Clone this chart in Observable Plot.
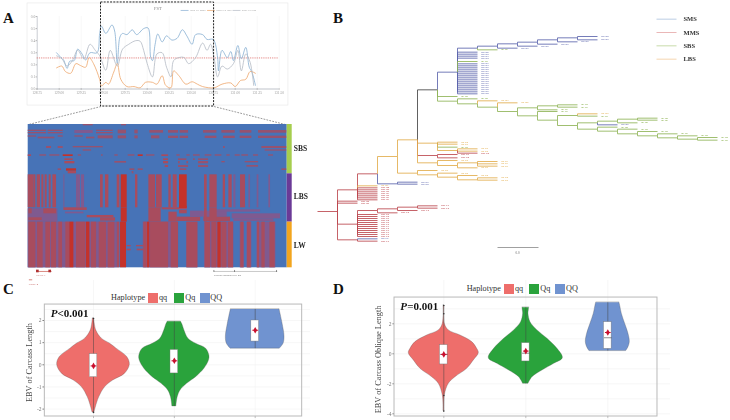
<!DOCTYPE html>
<html><head><meta charset="utf-8">
<script src="https://cdn.jsdelivr.net/npm/d3@7"></script>
<script src="https://cdn.jsdelivr.net/npm/@observablehq/plot@0.6"></script>
<style>
html,body{margin:0;padding:0;background:#fff}
#page{position:relative;width:730px;height:420px;overflow:hidden;font-family:"Liberation Serif",serif}
#page svg{position:absolute;background:transparent;overflow:visible;max-width:none;filter:blur(.3px)}
.t{position:absolute;white-space:nowrap;line-height:1}
.sw{position:absolute}
</style></head><body><div id="page"></div>
<script>
const SERIF="Liberation Serif";
// ---------- Panel A: FST ----------
const smsMmsX=[128.97,129.02,129.05,129.09,129.12,129.17,129.21,129.26,129.30,129.35,129.43,129.46,129.48,129.53,129.60,129.63,129.66,129.69,129.72,129.77,129.83,129.88,129.96,130.01,130.04,130.06,130.09,130.12,130.17,130.22,130.28,130.34,130.40,130.45,130.51,130.55,130.63,130.68,130.75,130.80,130.81,130.85,130.91,130.95,130.98,131.03,131.07,131.12,131.16,131.19,131.23];
const smsMmsY=[.30,.26,.24,.17,.23,.235,.33,.29,.24,.30,.30,.46,.52,.46,.53,.48,.21,.43,.46,.45,.49,.45,.50,.505,.26,.235,.37,.455,.39,.44,.405,.42,.49,.44,.37,.45,.45,.41,.41,.26,.15,.32,.26,.31,.235,.36,.25,.345,.18,.14,.03];
const mmsSbsX=[128.97,129.03,129.07,129.13,129.19,129.24,129.30,129.34,129.39,129.46,129.48,129.53,129.56,129.62,129.66,129.70,129.77,129.85,129.92,129.98,130.06,130.11,130.17,130.21,130.27,130.30,130.36,130.44,130.51,130.57,130.63,130.76,130.85,130.95,131.00,131.06,131.12,131.17,131.23];
const mmsSbsY=[.175,.19,.145,.13,.21,.195,.18,.26,.21,.08,.025,.055,.04,.14,.21,.08,.02,.02,.01,.055,.055,.04,.11,.03,.01,.15,.11,.04,.06,.04,.02,.01,.04,.05,.02,.07,.08,.145,.13];
const smsSbsX=[128.97,129.03,129.09,129.15,129.21,129.28,129.35,129.41,129.46,129.53,129.58,129.66,129.72,129.79,129.87,129.92,129.96,130.00,130.06,130.11,130.17,130.22,130.27,130.30,130.36,130.42,130.47,130.55,130.63,130.68,130.72,130.76,130.80,130.85,130.91,130.98,131.03,131.07,131.12,131.17,131.21];
const smsSbsY=[.275,.25,.19,.235,.32,.25,.37,.32,.275,.155,.32,.19,.33,.37,.40,.395,.32,.21,.10,.29,.30,.18,.10,.235,.26,.26,.21,.26,.38,.32,.37,.26,.10,.19,.165,.21,.32,.15,.29,.22,.03];
const fstTicksX=[128.75,129,129.25,129.5,129.75,130,130.25,130.5,130.75,131,131.25,131.5];
const fstTicksY=[0,.1,.2,.3,.4,.5,.6];
const fstThreshold=.257;
const zoomWindow=[129.475,130.76];
const fstSeries=[["SMS VS MMS",smsMmsX,smsMmsY,"#86AED2"],["MMS VS SBS",mmsSbsX,mmsSbsY,"#EDA66B"],["SMS VS SBS",smsSbsX,smsSbsY,"#B4BAC4"]];
const fstLegendX=[130.38,130.68,130.97];
// ---------- Panel A: haplotype matrix (column, row positions) ----------
const tone={m:"#A84C5E",b:"#C4322A",p:"#7F5A90",s:"#96526F"};
const sbsDashes=[[12,16,248,278,"s"],[12,16,363,378,"s"],
[29,33,83,138,"s"],[36,40,83,138,"s"],[29,33,143,188,"s"],[36,40,143,188,"s"],[30,39,223,278,"p"],[29,33,288,338,"s"],[36,40,288,338,"s"],[29,40,353,378,"s"],[29,40,403,413,"s"],[30,38,448,489,"s"],[30,38,504,534,"s"],[30,38,539,564,"s"],[30,38,609,649,"s"],[30,38,664,704,"s"],[30,38,719,754,"s"],[30,38,774,859,"s"],
[46,50,83,108,"s"],[50,55,113,163,"s"],[46,50,173,188,"s"],[46,50,223,248,"s"],[50,55,258,283,"s"],[46,55,293,338,"s"],[46,55,353,378,"s"],[46,55,403,413,"s"],[46,55,453,478,"s"],[47,54,504,534,"s"],[47,54,539,564,"s"],[47,54,614,649,"s"],[47,54,669,704,"s"],[47,54,719,754,"s"],[47,54,774,859,"s"],
[78,84,138,153,"s"],[78,84,173,188,"s"],[78,82,218,308,"s"],[78,84,669,674,"s"],[78,84,784,859,"s"],
[88,92,248,273,"s"],[88,92,794,859,"s"],
[103,108,83,93,"m"],[103,107,118,138,"s"],[103,107,148,178,"s"],[103,108,188,218,"b"],[103,107,233,243,"s"],[103,107,303,308,"s"],[103,107,343,353,"s"],[103,107,383,403,"s"],[103,108,413,428,"b"],[103,107,438,463,"s"],[103,108,484,504,"m"],[103,107,529,539,"s"],[103,107,559,569,"s"],[103,107,579,599,"s"],[103,107,614,634,"s"],[103,107,644,664,"s"],[103,107,679,689,"s"],[103,107,704,719,"s"],[103,107,724,744,"s"],[103,107,759,774,"s"],[103,107,804,819,"s"],
[115,120,193,218,"m"],[115,120,489,504,"m"],[115,120,534,559,"s"],[115,120,579,584,"s"],[115,120,594,624,"s"],
[123,130,193,223,"m"],[123,128,343,378,"s"],[123,130,489,504,"m"],[123,130,534,539,"s"],[123,130,559,564,"s"],[123,130,594,624,"s"],[123,127,664,674,"s"],[123,127,734,774,"s"],
[135,141,494,504,"m"],[135,141,534,564,"s"],[135,141,594,624,"s"],[135,140,739,774,"s"],
[145,150,173,183,"s"],[145,152,198,228,"b"],[145,150,388,403,"s"],[145,150,413,428,"s"],[145,150,539,559,"s"],[145,150,844,859,"s"],
[153,160,203,228,"m"],[153,160,395,400,"s"]];
const lbsBands=[[83,100,"m"],[100,106,"m"],[110,120,"m"],[124,130,"m"],[134,140,"m"],[146,152,"m"],[157,168,"m"],[190,193,"p"],[228,240,"p"],[243,252,"p"],[300,308,"m"],[315,325,"m"],[350,358,"m"],[362,380,"b"],[405,412,"m"],[445,465,"m"],[468,485,"m"],[505,512,"m"],[518,530,"m"],[537,560,"b"],[612,620,"m"],[628,650,"m"],[668,675,"m"],[685,695,"m"],[700,706,"p"],[720,735,"m"],[745,750,"p"],[770,775,"p"],[805,810,"p"]];
const lbsPatches=[[265,305,83,172,"p"],[265,280,85,95,"m"],[265,280,130,168,"m"],[292,300,85,125,"m"],[262,270,190,260,"m"],[275,280,195,250,"p"],[262,305,362,380,"b"],[262,305,445,482,"m"],[285,292,260,340,"m"],[292,302,300,345,"m"],[262,268,485,560,"m"],[258,264,537,560,"b"],[275,305,505,530,"m"],[270,280,537,560,"m"],[290,303,530,600,"m"],[272,290,570,680,"p"],[290,303,610,690,"m"],[280,295,695,840,"p"],[268,275,640,780,"p"],[295,303,700,820,"p"],[262,305,612,620,"m"],[262,305,628,650,"m"]];
const lwUnder=[[83,350,"p"],[428,534,"p"],[559,592,"p"],[612,700,"p"],[719,732,"p"],[739,754,"p"],[769,826,"p"]];
const lwBands=[[85,106,"m"],[111,128,"m"],[136,150,"m"],[153,168,"m"],[175,186,"m"],[196,208,"m"],[208,220,"b"],[228,256,"m"],[258,268,"b"],[273,288,"m"],[296,318,"m"],[323,343,"m"],[350,358,"m"],[360,378,"b"],[430,440,"m"],[441,448,"b"],[450,504,"m"],[512,534,"m"],[559,592,"m"],[614,630,"m"],[634,649,"m"],[652,662,"b"],[664,679,"m"],[684,699,"m"],[721,730,"m"],[741,752,"m"],[771,777,"m"],[784,794,"m"],[808,824,"m"]];
const lwPatches=[[375,379,380,392,"m"],[375,379,408,430,"m"],[386,391,380,392,"m"],[386,391,410,430,"m"]];
const groupNames=["SBS","LBS","LW"],groupRows=[[12,160],[160,305],[305,442]],groupColors=["#A6CE4E","#6B3A97","#F2A51F"];
// ---------- Panel B: tree, edges = [parent depth, parent row, child row, clade, isLeaf] ----------
const stackS=[155,161,167,173,190,196,202,208,214,220,226,232,238,244,250,256,262,268,274,280];
const stackM1=[562,568,574,580,586,592,598];
const stackM2=[642,648,654,660,666,672,678,684,690,696,702,708];
const treeEdges=[
[-1,633,633,"M",0],[0,633,568,"M",0],[0,633,602,"M",1],[0,633,608,"M",1],[0,633,671,"M",0],[0,633,718,"M",0],
[1,568,520,"M",0],[1,568,556,"L",1],...stackM1.map(y=>[1,568,y,"M",1]),
[2,520,468,"L",0],[2,520,550,"S",0],[3,550,545,"S",1],[3,550,551,"S",1],
[3,468,418,"L",0],[3,468,518,"L",0],
[4,418,268,"K",0],[4,418,428,"L",0],[4,418,465,"M",0],[4,418,487,"L",0],
[5,268,215,"S",0],[5,268,288,"G",1],[5,268,302,"G",0],
[6,215,143,"S",0],...stackS.map(y=>[6,215,y,"S",1]),[6,215,183,"G",1],
[7,143,137,"S",0],[7,143,148,"G",1],[8,137,130,"S",0],[8,137,143,"S",1],[9,130,125,"S",0],[9,130,137,"S",1],[10,125,118,"S",0],[10,125,131,"S",1],[11,118,112,"S",0],[11,118,124,"S",1],[12,112,108,"S",1],[12,112,118,"S",1],
[6,302,295,"G",1],[6,302,310,"G",0],[7,310,301,"L",1],[7,310,320,"G",0],[8,320,307,"L",1],[8,320,333,"G",0],
[9,333,322,"G",0],[9,333,346,"G",0],[10,322,316,"G",0],[10,322,328,"G",1],[11,316,313,"G",1],[11,316,320,"G",1],
[10,346,333,"G",1],[10,346,359,"G",0],[11,359,345,"G",0],[11,359,375,"G",0],[12,345,340,"L",1],[12,345,347,"G",1],
[12,375,367,"G",0],[12,375,386,"G",0],[13,367,362,"G",0],[13,367,373,"S",1],[14,362,356,"G",0],[14,362,367,"G",1],[15,356,353,"G",1],[15,356,359,"G",1],
[13,386,380,"G",1],[13,386,392,"G",0],[14,392,386,"G",1],[14,392,400,"G",0],[15,400,393,"G",1],[15,400,406,"G",0],[16,406,400,"G",1],[16,406,412,"G",0],[17,412,406,"G",1],[17,412,416,"G",0],[18,416,411,"G",1],[18,416,419,"G",1],
[5,428,425,"L",1],[5,428,431,"L",1],[5,428,440,"G",1],[5,428,450,"L",0],[6,450,445,"L",1],[6,450,452,"L",1],[6,450,458,"M",1],
[5,465,462,"M",1],[5,465,472,"M",1],
[5,487,480,"L",1],[5,487,495,"L",0],[6,495,487,"L",0],[6,495,502,"L",1],[7,487,483,"L",1],[7,487,490,"L",1],[7,487,497,"L",1],
[4,518,510,"L",1],[4,518,523,"L",0],[5,523,518,"L",1],[5,523,530,"L",0],[6,530,525,"L",1],[6,530,538,"L",0],[7,538,532,"L",1],[7,538,539,"L",1],
[1,671,630,"M",0],...stackM2.map(y=>[1,671,y,"M",1]),[2,630,625,"M",0],[2,630,637,"M",1],[3,625,620,"M",0],[3,625,630,"M",1],[4,620,616,"M",1],[4,620,623,"M",1],
[1,718,715,"S",1],[1,718,722,"M",1]];
const cladeColors={S:"#5C64AC",M:"#BC474E",G:"#8FB456",L:"#E2AC4C",K:"#444444"};
const cladeNames={S:"SMS",M:"MMS",G:"SBS",L:"LBS"};
const treeLegendNames=["SMS","MMS","SBS","LBS"],treeLegendRows=[56,96,136,176],treeLegendColors=["#A9C2DE","#E4A4A4","#BAD294","#F3CB9C"];
// ---------- Panels C, D ----------
const hapNames=["qq","Qq","QQ"],hapColors=["#EE6E6B","#2AA33C","#7093D0"];
const cGrid={qq:[2.09,1.56,1.18,.95,.73,.35,0,-.41,-.71,-1.02,-1.47,-1.92,-2.15],
Qq:[1.94,1.79,1.56,1.18,.95,.73,.42,.2,-.18,-.56,-.86,-1.17,-1.47,-1.88],QQ:[2.5,1.86,1.26,.95,.73]};
const cDens={qq:[2,8,25,50,69,101,109,94,59,34,17,7,3],Qq:[20,25,30,42,65,95,105,104,90,65,38,18,10,6],QQ:[73,82,88,85,74]};
const cBox={qq:[-.56,.48,null,-.05,-2.15,2.09],Qq:[-.39,.67,null,.18,-1.88,1.94],QQ:[1.05,2,null,1.56,.73,2.5]};
const cOut=[[1,2.09],[1,-2.15]];
const dGrid={qq:[3.22,2,1.56,1.22,.78,.33,.04,-.44,-1,-1.56,-2,-2.78,-3.82],
Qq:[3.07,2.89,2.67,2.11,1.56,1,.33,-.29,-.67,-1.11,-1.56,-2],QQ:[3.4,3.11,2.67,2,1.33,.78,.44,.18]};
const dDens={qq:[1,3,15,50,85,100,105,90,70,35,15,3,1],Qq:[10,9,8,14,35,65,95,111,85,50,20,8],QQ:[35,38,42,52,62,66,62,55]};
const dBox={qq:[-.71,.58,-.04,-.04,-3.82,3.22],Qq:[-.51,.71,.04,.18,-2,3.07],QQ:[.33,2.11,1.07,1.42,.18,3.4]};
const dOut=[[1,3.22],[1,2.67],[1,-2.78],[1,-3.82]];

const page=document.getElementById("page");
function place(svg,left,top){svg.style.left=left+"px";svg.style.top=top+"px";page.appendChild(svg);}
function text(s,left,top,size,extra=""){const e=document.createElement("div");e.className="t";e.textContent=s;e.style.cssText=`left:${left}px;top:${top}px;font-size:${size}px;${extra}`;page.appendChild(e);}

// Panel A line chart
{
 const series=fstSeries.flatMap(([name,xs,ys,color])=>xs.map((x,i)=>({name,x,y:ys[i],color})));
 place(Plot.plot({width:300,height:125,marginLeft:36.7,marginBottom:36.5,marginTop:16,marginRight:21.3,
  style:{fontFamily:SERIF,background:"transparent"},color:{type:"identity"},
  x:{domain:[128.75,131.5],range:[36.7,278.7]},y:{domain:[0,.6],range:[88.5,16]},
  marks:[
   Plot.rect([0],{x1:128.64,x2:131.605,y1:-.137,y2:.708,fill:"none",stroke:"#e6e6e6",strokeWidth:.6}),
   Plot.ruleX(fstTicksX,{y1:0,y2:.6,stroke:"#efefef",strokeWidth:.5}),
   Plot.ruleY([0],{stroke:"#aeb4bc",strokeWidth:.8}),
   Plot.ruleX([128.75],{y1:0,y2:.6,stroke:"#aeb4bc",strokeWidth:.6}),
   Plot.axisX({ticks:fstTicksX,tickSize:1,tickPadding:1.5,fontSize:3.6,tickFormat:d=>d3.format(".2f")(d),color:"#999",label:null}),
   Plot.axisY({ticks:fstTicksY,tickSize:1,tickPadding:1,fontSize:3.6,tickFormat:d3.format(".1f"),color:"#999",label:null}),
   Plot.ruleY([fstThreshold],{stroke:"#D9534F",strokeWidth:.7,strokeDasharray:"1.2,1"}),
   Plot.line(series,{x:"x",y:"y",z:"name",stroke:"color",strokeWidth:.8,curve:"catmull-rom"}),
   Plot.text(["FST"],{x:130.12,y:.664,fontSize:4.5,fill:"#888"}),
   Plot.link(fstSeries,{x1:(d,i)=>fstLegendX[i],x2:(d,i)=>fstLegendX[i]+.09,y1:.65,y2:.65,stroke:d=>d[3],strokeWidth:.7}),
   Plot.text(fstSeries,{x:(d,i)=>fstLegendX[i]+.105,y:.65,text:d=>d[0],fontSize:2.6,fill:"#999",textAnchor:"start"}),
   Plot.rect([0],{x1:zoomWindow[0],x2:zoomWindow[1],y1:-.145,y2:.716,fill:"none",stroke:"#222",strokeWidth:1,strokeDasharray:"2,1.2"}),
   Plot.link([[zoomWindow[0],128.65],[zoomWindow[1],131.57]],{x1:d=>d[0],x2:d=>d[1],y1:-.145,y2:-.294,stroke:"#555",strokeWidth:.6,strokeDasharray:"1.8,1.2"})
  ]}),0,0);
}
// Panel A matrix
{
 const r=(r1,r2,c1,c2,t)=>({r1,r2,c1,c2,fill:tone[t]});
 const cells=[
  ...sbsDashes.map(d=>r(...d)),
  ...lbsBands.map(d=>r(163,262,d[0],d[1],d[2])),...lbsPatches.map(d=>r(...d)),
  ...lwUnder.map(d=>r(305,442,d[0],d[1],d[2])),
  ...lwBands.map(d=>r(305,442,d[0],d[1],d[2])),...lwPatches.map(d=>r(...d))];
 place(Plot.plot({width:310,height:175,margin:0,style:{fontFamily:SERIF,background:"transparent"},color:{type:"identity"},
  x:{axis:null,domain:[83,860],range:[27.7,286.7]},y:{axis:null,domain:[12,442],range:[4,147.3]},
  marks:[
   Plot.rect([0],{x1:83,x2:860,y1:12,y2:442,fill:"#4773B7"}),
   Plot.rect(cells,{x1:"c1",x2:"c2",y1:"r1",y2:"r2",fill:"fill"}),
   Plot.rect(groupNames,{x1:860,x2:875,y1:(d,i)=>groupRows[i][0],y2:(d,i)=>groupRows[i][1],fill:(d,i)=>groupColors[i]}),
   Plot.text(groupNames,{x:880,y:(d,i)=>[85,228,374][i],text:d=>d,textAnchor:"start",fontSize:7.5,fontWeight:"bold",fill:"#222"}),
   Plot.link([0],{x1:108,x2:153,y1:453,y2:453,stroke:"#C0392B",strokeWidth:.6}),
   Plot.rect([[108,116],[145,153]],{x1:d=>d[0],x2:d=>d[1],y1:449,y2:457,fill:"#B03030"}),
   Plot.text(["GENE-1"],{x:108,y:465,fontSize:2.6,fill:"#B03030",textAnchor:"start"}),
   Plot.link([0],{x1:85,x2:95,y1:478,y2:478,stroke:"#C0392B",strokeWidth:.6}),
   Plot.text(["GENE-2"],{x:85,y:490,fontSize:2.6,fill:"#B03030",textAnchor:"start"}),
   Plot.link([0],{x1:640,x2:830,y1:453,y2:453,stroke:"#777",strokeWidth:.4}),
   Plot.ruleX([640,702,828],{y1:450,y2:456,stroke:"#444",strokeWidth:.6}),
   Plot.text(["ENSSSCG00000011111-201"],{x:640,y:465,fontSize:2.4,fill:"#555",textAnchor:"start"})
  ]}),0,120);
}
// Panel B tree
{
 const ed=treeEdges.map(([d,py,cy,c,leaf],i)=>({d,py,cy,c,leaf,i}));
 place(Plot.plot({width:420,height:265,margin:0,style:{fontFamily:SERIF,background:"transparent"},color:{type:"identity"},
  x:{axis:null,domain:[-1,19],range:[7,407]},y:{axis:null,domain:[0,780],range:[0,260]},
  marks:[
   Plot.link(ed,{x1:"d",x2:d=>d.d+1,y1:"py",y2:"cy",stroke:d=>cladeColors[d.c],strokeWidth:.85,curve:"step-before"}),
   Plot.text(ed.filter(d=>d.leaf),{x:d=>d.d+1.18,y:"cy",text:d=>`${cladeNames[d.c]}-${1000+d.i}`,fontSize:1.7,fontWeight:"bold",fill:d=>cladeColors[d.c],textAnchor:"start"}),
   Plot.link([0],{x1:8,x2:10.05,y1:741,y2:741,stroke:"#888",strokeWidth:.8}),
   Plot.text(["0.0"],{x:9,y:758,fontSize:3.2,fill:"#666"}),
   Plot.link(treeLegendNames,{x1:15.95,x2:16.95,y1:(d,i)=>treeLegendRows[i],y2:(d,i)=>treeLegendRows[i],stroke:(d,i)=>treeLegendColors[i],strokeWidth:.8}),
   Plot.text(treeLegendNames,{x:17.3,y:(d,i)=>treeLegendRows[i],text:d=>d,fontSize:6.5,fontWeight:"bold",fill:"#333",textAnchor:"start"})
  ]}),310,0);
}
// Panels C, D violins
function violinPanel(o){
 const k=o.pxUnit*3;
 const marks=[
  Plot.ruleY(o.grid,{stroke:"#eeeeee",strokeWidth:.5}),
  Plot.ruleX([1,2,3],{stroke:"#eeeeee",strokeWidth:.5}),
  Plot.axisY({ticks:o.ticks,tickSize:1.5,tickPadding:1.5,fontSize:5.5,color:"#777",label:null,tickFormat:d=>d<0?"-"+(-d):d}),
  Plot.ruleX([1,2,3],{y1:o.frame[2],y2:o.tickEnd,stroke:"#777",strokeWidth:.5}),
  Plot.rect([0],{x1:o.frame[0],x2:o.frame[1],y1:o.frame[2],y2:o.frame[3],fill:"none",stroke:"#b9b9b9",strokeWidth:1})
 ];
 hapNames.forEach((h,i)=>{
  const pos=i+1,rows=o.gridV[h].map((e,j)=>({e,w:o.dens[h][j]/k}));
  const [lo,hi,med,mean,wl,wh]=o.box[h];
  marks.push(
   Plot.areaX(rows,{y:"e",x1:d=>pos-d.w,x2:d=>pos+d.w,fill:hapColors[i],stroke:"#555",strokeWidth:.5,strokeOpacity:.6,curve:"catmull-rom"}),
   Plot.ruleX([pos],{y1:wl,y2:wh,stroke:"#444",strokeWidth:.7,strokeOpacity:.7}),
   Plot.rect([0],{x1:pos-o.boxW,x2:pos+o.boxW,y1:lo,y2:hi,fill:"#fff",stroke:"#777",strokeWidth:.4})
  );
  if(med!=null) marks.push(Plot.link([0],{x1:pos-o.boxW,x2:pos+o.boxW,y1:med,y2:med,stroke:"#444",strokeWidth:.6}));
  marks.push(
   Plot.link([0],{x1:pos-o.boxW*.75,x2:pos+o.boxW*.75,y1:mean,y2:mean,stroke:"#C8102E",strokeWidth:1}),
   Plot.dot([0],{x:pos,y:mean,symbol:"diamond",r:2,fill:"#C8102E"}));
 });
 marks.push(
  Plot.dot(o.outliers,{x:d=>d[0],y:d=>d[1],r:.8,fill:"#333"}),
  Plot.text(["P"],{x:o.pX,y:o.pY,textAnchor:"start",fontSize:11,fontWeight:"bold",fontStyle:"italic",fill:"#111"}),
  Plot.text([o.pText],{x:o.pX+o.pShift,y:o.pY,textAnchor:"start",fontSize:11,fontWeight:"bold",fill:"#111"}),
  Plot.text([o.label],{x:o.labelX,y:o.labelY,rotate:-90,fontSize:8.3,fill:"#444"})
 );
 place(Plot.plot({width:o.width,height:140,marginLeft:o.axisX,marginTop:0,marginRight:0,marginBottom:0,
  style:{fontFamily:SERIF,background:"transparent"},
  x:{axis:null,domain:[1,3],range:o.xr},y:{domain:o.yd,range:o.yr},marks}),o.left,280);
}
violinPanel({left:0,width:310,pxUnit:80.85,axisX:44,xr:[93,254.7],yd:[0,2],yr:[84.3,40],ticks:[-2,-1,0,1,2],grid:[-2,-1.5,-1,-.5,0,.5,1,1.5,2,2.5],
 frame:[.398,3.581,-2.334,2.72],tickEnd:-2.42,gridV:cGrid,dens:cDens,box:cBox,boxW:.0475,outliers:cOut,
 pX:.47,pY:2.31,pShift:.085,pText:"<0.001",label:"EBV of Carcass Length",labelX:.21,labelY:.1});
violinPanel({left:320,width:350,pxUnit:82,axisX:74,xr:[123.3,287.3],yd:[-4,2],yr:[133.3,43.3],ticks:[-4,-2,0,2],grid:[-4,-3,-2,-1,0,1,2,3],
 frame:[.399,3.606,-4.18,3.75],tickEnd:-4.3,gridV:dGrid,dens:dDens,box:dBox,boxW:.0465,outliers:dOut,
 pX:.47,pY:3.13,pShift:.085,pText:"=0.001",label:"EBV of Carcass Oblique Length",labelX:.2,labelY:-.38});
// Legends of C and D
function hapLegend(hx,tx,sx,top){
 text("Haplotype",hx,top+1,8.2,"color:#333");
 hapNames.forEach((h,i)=>{
  const s=document.createElement("div");s.className="sw";
  s.style.cssText=`left:${sx[i]}px;top:${top}px;width:10px;height:10px;background:${hapColors[i]}`;
  page.appendChild(s);
  text(h,tx[i],top+1,8.2,"color:#333");
 });
}
hapLegend(111,[159,185.3,210.3],[147.7,174,200],292.7);
hapLegend(466.7,[515,540.3,566],[504,529.3,555.3],284.3);
// Panel letters
[["A",3,10.5],["B",333,10.5],["C",3,281.5],["D",333,281.5]].forEach(([s,x,y])=>text(s,x,y,15,"font-weight:bold;color:#111"));
</script></body></html>
